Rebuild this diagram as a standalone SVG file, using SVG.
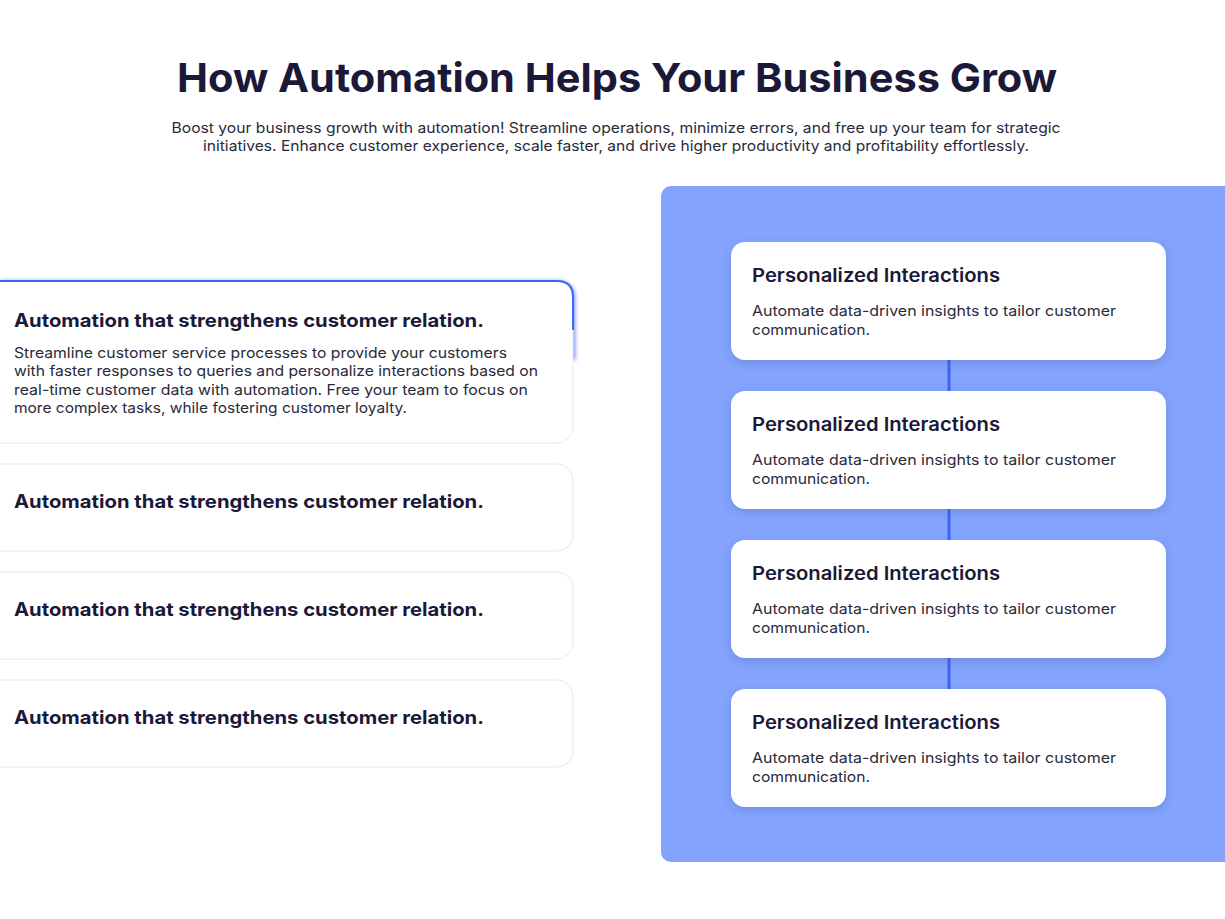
<svg xmlns="http://www.w3.org/2000/svg" width="1225" height="919" viewBox="0 0 1225 919">
<style>
text{font-family:Inter,"Liberation Sans",sans-serif;fill:#1b1838}
.title{font-size:40px;font-weight:700;text-anchor:middle}
.sub{font-size:14.5px;text-anchor:middle;fill:#2a2a3a}
.lh{font-size:18.5px;font-weight:700}
.lb{font-size:14.5px;fill:#2a2a3a}
.card{fill:#fff;stroke:#e8e8ee;stroke-width:1}
.rcard{fill:#fff}
.rh{font-size:18.5px;font-weight:600}
.rb{font-size:14.5px;fill:#2a2a3a}
.conn{stroke:#3a66f5;stroke-width:3}
</style>
<defs>
<filter id="sh" x="-10%" y="-20%" width="120%" height="150%"><feDropShadow dx="0" dy="3" stdDeviation="4" flood-color="#3a4a90" flood-opacity="0.25"/></filter>
<filter id="glow" x="-10%" y="-20%" width="120%" height="140%"><feGaussianBlur stdDeviation="2"/></filter>
</defs>
<rect width="1225" height="919" fill="#fff"/>
<text class="title" x="617" y="92" textLength="880" lengthAdjust="spacingAndGlyphs">How Automation Helps Your Business Grow</text>
<text class="sub" x="616" y="133" textLength="889" lengthAdjust="spacingAndGlyphs">Boost your business growth with automation! Streamline operations, minimize errors, and free up your team for strategic</text>
<text class="sub" x="616" y="151" textLength="826" lengthAdjust="spacingAndGlyphs">initiatives. Enhance customer experience, scale faster, and drive higher productivity and profitability effortlessly.</text>
<rect x="661" y="186" width="580" height="676" rx="10" fill="#83a3fd"/>
<g id="left1">
<path d="M0 283 H557 Q573 283 573 299 V360" fill="none" stroke="#3a66f5" stroke-width="4" filter="url(#glow)" opacity="0.8"/>
<path d="M0 442 H210" fill="none" stroke="#3a66f5" stroke-width="4" filter="url(#glow)" opacity="0.6"/>
<rect class="card" x="-16" y="281" width="589" height="162" rx="16"/>
<path d="M0 281 H557 Q573 281 573 297 V330" fill="none" stroke="#3a66f5" stroke-width="2"/>
<text class="lh" x="14" y="327" textLength="470" lengthAdjust="spacingAndGlyphs">Automation that strengthens customer relation.</text>
<text class="lb" x="14" y="358" textLength="493" lengthAdjust="spacingAndGlyphs">Streamline customer service processes to provide your customers</text>
<text class="lb" x="14" y="376" textLength="524" lengthAdjust="spacingAndGlyphs">with faster responses to queries and personalize interactions based on</text>
<text class="lb" x="14" y="395" textLength="514" lengthAdjust="spacingAndGlyphs">real-time customer data with automation. Free your team to focus on</text>
<text class="lb" x="14" y="413" textLength="393" lengthAdjust="spacingAndGlyphs">more complex tasks, while fostering customer loyalty.</text>
</g>
<g id="left2"><rect class="card" x="-16" y="464" width="589" height="87" rx="16"/><text class="lh" x="14" y="508" textLength="470" lengthAdjust="spacingAndGlyphs">Automation that strengthens customer relation.</text></g>
<g id="left3"><rect class="card" x="-16" y="572" width="589" height="87" rx="16"/><text class="lh" x="14" y="616" textLength="470" lengthAdjust="spacingAndGlyphs">Automation that strengthens customer relation.</text></g>
<g id="left4"><rect class="card" x="-16" y="680" width="589" height="87" rx="16"/><text class="lh" x="14" y="724" textLength="470" lengthAdjust="spacingAndGlyphs">Automation that strengthens customer relation.</text></g>
<g id="connectors">
<line class="conn" x1="949" y1="360" x2="949" y2="391"/>
<line class="conn" x1="949" y1="509" x2="949" y2="540"/>
<line class="conn" x1="949" y1="658" x2="949" y2="689"/>
</g>
<g id="r1"><rect class="rcard" x="731" y="242" width="435" height="118" rx="14" filter="url(#sh)"/><text class="rh" x="752" y="282" textLength="248" lengthAdjust="spacingAndGlyphs">Personalized Interactions</text><text class="rb" x="752" y="316" textLength="364" lengthAdjust="spacingAndGlyphs">Automate data-driven insights to tailor customer</text><text class="rb" x="752" y="335" textLength="118" lengthAdjust="spacingAndGlyphs">communication.</text></g>
<g id="r2"><rect class="rcard" x="731" y="391" width="435" height="118" rx="14" filter="url(#sh)"/><text class="rh" x="752" y="431" textLength="248" lengthAdjust="spacingAndGlyphs">Personalized Interactions</text><text class="rb" x="752" y="465" textLength="364" lengthAdjust="spacingAndGlyphs">Automate data-driven insights to tailor customer</text><text class="rb" x="752" y="484" textLength="118" lengthAdjust="spacingAndGlyphs">communication.</text></g>
<g id="r3"><rect class="rcard" x="731" y="540" width="435" height="118" rx="14" filter="url(#sh)"/><text class="rh" x="752" y="580" textLength="248" lengthAdjust="spacingAndGlyphs">Personalized Interactions</text><text class="rb" x="752" y="614" textLength="364" lengthAdjust="spacingAndGlyphs">Automate data-driven insights to tailor customer</text><text class="rb" x="752" y="633" textLength="118" lengthAdjust="spacingAndGlyphs">communication.</text></g>
<g id="r4"><rect class="rcard" x="731" y="689" width="435" height="118" rx="14" filter="url(#sh)"/><text class="rh" x="752" y="729" textLength="248" lengthAdjust="spacingAndGlyphs">Personalized Interactions</text><text class="rb" x="752" y="763" textLength="364" lengthAdjust="spacingAndGlyphs">Automate data-driven insights to tailor customer</text><text class="rb" x="752" y="782" textLength="118" lengthAdjust="spacingAndGlyphs">communication.</text></g>
</svg>
